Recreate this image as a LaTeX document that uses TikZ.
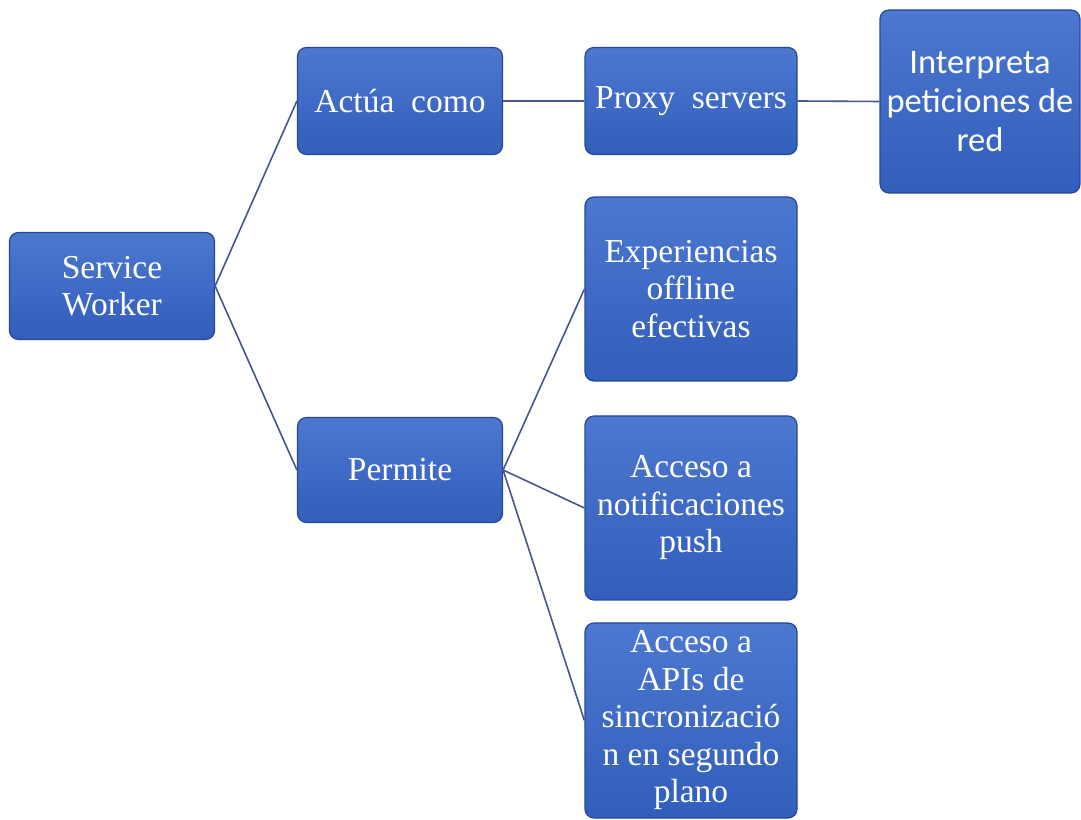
\documentclass[tikz,border=0pt]{standalone}
\usepackage{fontspec}
\setmainfont{Liberation Serif}
\newfontfamily\boxserif{Liberation Serif}
\newfontfamily\boxsans{Carlito}
\definecolor{boxblue}{RGB}{50,94,188}
\definecolor{boxtop}{RGB}{76,120,208}
\definecolor{boxedge}{RGB}{36,72,150}
\definecolor{linkcol}{RGB}{72,86,140}
\begin{document}
\begin{tikzpicture}[x=1pt,y=1pt,
  box/.style={draw=boxedge,line width=1.2pt,rounded corners=9pt,
    top color=boxtop,bottom color=boxblue,text=white,align=center,
    inner sep=0pt,font=\boxserif\fontsize{33.5}{37.5}\selectfont},
  link/.style={draw=linkcol,line width=1.6pt}]
\useasboundingbox (0,0) rectangle (1081,819);
% first level
\node[box,minimum width=205,minimum height=107] (sw) at (112,533) {Service\\Worker};
% second level
\node[box,minimum width=205,minimum height=107] (act) at (400,718) {Actúa\ \ como};
\node[box,minimum width=205,minimum height=105] (per) at (400,349) {Permite};
% third level
\node[box,minimum width=212,minimum height=107] (prx) at (691,718) {Proxy\ \ servers};
\node[box,minimum width=212,minimum height=184] (exp) at (691,530) {Experiencias\\offline\\efectivas};
\node[box,minimum width=212,minimum height=184] (ntf) at (691,311) {Acceso a\\notificaciones\\push};
\node[box,minimum width=212,minimum height=195] (api) at (691,98.5) {Acceso a\\APIs de\\sincronizació\\n en segundo\\plano};
% fourth level
\node[box,minimum width=200,minimum height=183,font=\boxsans\fontsize{34.5}{39}\selectfont] (int) at (980,717.5) {Interpreta\\peticiones de\\red};
% connectors
\draw[link] (sw.east) -- (act.west);
\draw[link] (sw.east) -- (per.west);
\draw[link] (act.east) -- (prx.west);
\draw[link] (prx.east) -- (int.west);
\draw[link] (per.east) -- (exp.west);
\draw[link] (per.east) -- (ntf.west);
\draw[link] (per.east) -- (api.west);
\end{tikzpicture}
\end{document}
